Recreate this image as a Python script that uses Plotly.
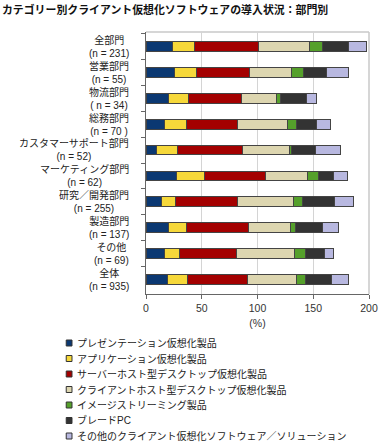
import plotly.graph_objects as go

categories = ["全部門", "営業部門", "物流部門", "総務部門", "カスタマーサポート部門",
              "マーケティング部門", "研究／開発部門", "製造部門", "その他", "全体"]
n_labels = ["(n = 231)", "(n = 55)", "( n = 34)", "(n = 70 )", "(n = 52)",
            "(n = 62)", "(n = 255)", "(n = 137)", "(n = 69)", "(n = 935)"]

series_names = ["プレゼンテーション仮想化製品", "アプリケーション仮想化製品",
                "サーバーホスト型デスクトップ仮想化製品", "クライアントホスト型デスクトップ仮想化製品",
                "イメージストリーミング製品", "ブレードPC", "その他のクライアント仮想化ソフトウェア／ソリューション"]

presentation = [23.6, 25.6, 20.5, 17.0, 9.8, 27.6, 13.6, 19.9, 17.0, 19.0]
application = [20.2, 19.3, 17.5, 19.5, 18.7, 25.3, 13.2, 16.1, 13.2, 18.1]
server_hosted = [57.5, 47.8, 47.5, 45.3, 57.9, 53.9, 55.5, 56.1, 51.0, 53.6]
client_hosted = [45.2, 37.7, 31.7, 45.1, 42.0, 37.7, 50.1, 37.4, 52.0, 44.3]
image_streaming = [11.8, 11.2, 3.1, 8.4, 2.0, 10.1, 7.8, 4.4, 9.9, 8.4]
blade_pc = [23.0, 20.1, 23.6, 17.3, 21.3, 13.2, 29.3, 24.7, 17.3, 22.7]
other = [16.2, 19.9, 8.7, 12.9, 23.0, 12.7, 16.2, 14.4, 7.7, 15.5]

series_values = [presentation, application, server_hosted, client_hosted,
                 image_streaming, blade_pc, other]
colors = ["#0b3872", "#f6d83a", "#a40000", "#ddd6b0", "#55a02b", "#333333", "#b8b8e0"]

x_ticks = [0, 50, 100, 150, 200]

FONT = "Liberation Sans, Arial, Noto Sans CJK JP, sans-serif"

# plot-area geometry (pixels)
W, H = 390, 446
ML, MR, MT, MB = 146, 12, 32, 152
PW, PH = W - ML - MR, H - MT - MB


def px_to_paper(px, py):
    return (px - ML) / PW, (H - MB - py) / PH


fig = go.Figure()
for name, vals, col in zip(series_names, series_values, colors):
    fig.add_trace(go.Bar(
        y=categories, x=vals, orientation="h", name=name,
        marker=dict(color=col, line=dict(color="#444444", width=1)),
        showlegend=False, hoverinfo="x+name",
    ))

annotations = []
for cat, nl in zip(categories, n_labels):
    annotations.append(dict(
        x=0, xref="paper", y=cat, yref="y", xanchor="right", yanchor="middle",
        xshift=-15, text=f"{cat}<br>{nl}", showarrow=False, align="center",
        font=dict(family=FONT, size=10, color="#222222"),
    ))

shapes = [
    dict(type="line", xref="paper", yref="paper", x0=0, x1=1, y0=1, y1=1,
         line=dict(color="#c8c8c8", width=1.5), layer="below"),
    dict(type="line", xref="paper", yref="paper", x0=1, x1=1, y0=0, y1=1,
         line=dict(color="#c8c8c8", width=1.5), layer="below"),
]

# manual legend (compact spacing like the reference)
LEG_X, LEG_Y0, LEG_STEP, SQ = 63, 343, 15.5, 6
for i, (name, col) in enumerate(zip(series_names, colors)):
    cy = LEG_Y0 + i * LEG_STEP
    x0, y0 = px_to_paper(LEG_X, cy + SQ / 2)
    x1, y1 = px_to_paper(LEG_X + SQ, cy - SQ / 2)
    shapes.append(dict(type="rect", xref="paper", yref="paper", x0=x0, x1=x1, y0=y0, y1=y1,
                       fillcolor=col, line=dict(color="#333333", width=1)))
    tx, ty = px_to_paper(LEG_X + SQ + 3, cy)
    annotations.append(dict(x=tx, y=ty, xref="paper", yref="paper", xanchor="left",
                            yanchor="middle", text=name, showarrow=False,
                            font=dict(family=FONT, size=10, color="#222222")))

fig.update_layout(
    width=W, height=H,
    margin=dict(l=ML, r=MR, t=MT, b=MB),
    paper_bgcolor="white", plot_bgcolor="white",
    barmode="stack", bargap=0.62,
    showlegend=False,
    font=dict(family=FONT, size=10, color="#222222"),
    title=dict(text="<b>カテゴリー別クライアント仮想化ソフトウェアの導入状況：部門別</b>",
               x=0.005, xanchor="left", y=1 - 10 / H, yanchor="middle",
               font=dict(family="Noto Sans CJK JP, sans-serif", size=10.9, color="#111111")),
    xaxis=dict(range=[0, 200], tickvals=x_ticks, showgrid=True, gridcolor="#d4d4d4",
               gridwidth=1, zeroline=False, showline=True, linecolor="#666666", linewidth=1,
               ticks="outside", ticklen=4, tickcolor="#666666",
               tickfont=dict(family=FONT, size=10.5, color="#333333"),
               title=dict(text="(%)", standoff=7, font=dict(family=FONT, size=10.5, color="#333333"))),
    yaxis=dict(autorange="reversed", showticklabels=False, showline=True, linecolor="#666666",
               linewidth=1, ticks="outside", ticklen=4, tickcolor="#666666", tickson="boundaries",
               showgrid=False, zeroline=False),
    annotations=annotations,
    shapes=shapes,
)

fig.write_html("out.html")
